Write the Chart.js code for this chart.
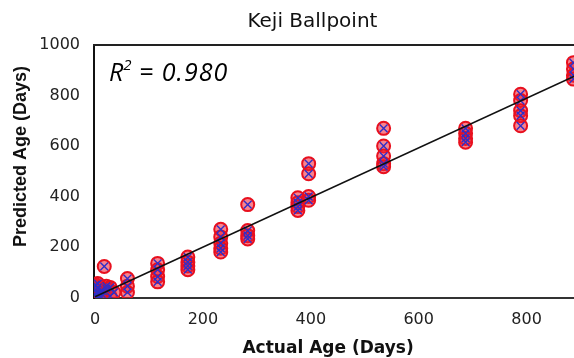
<!DOCTYPE html>
<html>
<head>
<meta charset="utf-8">
<script src="https://cdn.jsdelivr.net/npm/chart.js@4"></script>
<style>
html,body{margin:0;padding:0;background:#fff;overflow:hidden;}
</style>
</head>
<body>
<canvas id="c" width="574" height="358"></canvas>
<script>
// Actual age (days) of each sample and predicted age (days)
const actualAge = [
  0, 1, 2, 3, 5, 7, 10, 14, 21, 28, 1, 3, 14, 21, 0, 7, 10, 28, 35, 5,
  17,
  60, 60, 60,
  116, 116, 116, 116,
  172, 172, 172, 172,
  233, 233, 233, 233, 233,
  283, 283, 283, 283,
  376, 376, 376, 376,
  396, 396, 396, 396,
  535, 535, 535, 535, 535,
  687, 687, 687, 687,
  789, 789, 789, 789, 789,
  887, 887, 887, 887
];
const predictedAge = [
  10, 30, 20, 0, 40, 15, 25, 10, 45, 5, 50, 0, 25, 35, 45, 0, 5, 40, 20, 55,
  123,
  75, 45, 20,
  135, 110, 83, 62,
  160, 140, 125, 110,
  270, 240, 215, 195, 180,
  368, 265, 245, 232,
  395, 375, 360, 345,
  530, 490, 400, 385,
  670, 600, 560, 530, 518,
  670, 650, 630, 615,
  805, 780, 740, 720, 680,
  930, 905, 880, 865
];
// Linear fit line endpoints
const fitX = [0, 890];
const fitY = [3, 878];
const xTicks = [0, 200, 400, 600, 800];
const yTicks = [0, 200, 400, 600, 800, 1000];
const titleText = "        Keji Ballpoint";
const xTitle = "Actual Age (Days)  ";
const yTitle = "      Predicted Age (Days)";
const r2Text = "0.980";

const pts = actualAge.map((x, i) => ({x: x, y: predictedAge[i]}));
const fitPts = fitX.map((x, i) => ({x: x, y: fitY[i]}));

const framePlugin = {
  id: 'frame',
  afterDraw(chart) {
    const {ctx, chartArea: a} = chart;
    ctx.save();
    ctx.strokeStyle = '#222';
    ctx.lineWidth = 2;
    ctx.beginPath();
    ctx.moveTo(a.left - 1, a.top);
    ctx.lineTo(a.right + 5, a.top);
    ctx.stroke();
    // R^2 label
    ctx.fillStyle = '#000';
    ctx.textBaseline = 'alphabetic';
    try { ctx.letterSpacing = '1px'; } catch (e) {}
    ctx.font = 'italic 25px "Open Sans"';
    const x0 = a.left + 15, y0 = a.top + 36;
    ctx.fillText('R', x0, y0);
    const wR = ctx.measureText('R').width;
    ctx.font = 'italic 15px "Open Sans"';
    ctx.fillText('2', x0 + wR - 1, y0 - 11);
    const w2 = ctx.measureText('2').width;
    ctx.font = 'italic 25px "Open Sans"';
    ctx.fillText(' = ' + r2Text, x0 + wR + w2 - 2, y0);
    ctx.restore();
  }
};

new Chart(document.getElementById('c'), {
  type: 'scatter',
  data: {
    datasets: [
      {
        type: 'line',
        data: fitPts,
        borderColor: '#111',
        borderWidth: 1.5,
        pointRadius: 0,
        fill: false,
        order: 0
      },
      {
        data: pts,
        pointStyle: 'crossRot',
        pointRadius: 5.5,
        borderColor: '#2f2fc8',
        borderWidth: 1.4,
        order: 1
      },
      {
        data: pts,
        pointStyle: 'circle',
        pointRadius: 6.5,
        borderColor: '#e8101e',
        backgroundColor: 'rgba(240,30,50,0.55)',
        borderWidth: 2,
        order: 2
      }
    ]
  },
  options: {
    responsive: false,
    devicePixelRatio: 1,
    animation: false,
    layout: {autoPadding: false, padding: {left: 0, right: 0, top: 0, bottom: 0}},
    plugins: {
      legend: {display: false},
      tooltip: {enabled: false},
      title: {
        display: true,
        text: titleText,
        color: '#111',
        font: {family: '"DejaVu Sans"', size: 20, weight: 'normal'},
        padding: {top: 10, bottom: 11}
      }
    },
    scales: {
      x: {
        type: 'linear',
        min: -2,
        max: 888,
        grid: {display: false, drawTicks: false},
        border: {display: true, color: '#333', width: 2},
        afterBuildTicks(scale) { scale.ticks = xTicks.map(v => ({value: v})); },
        ticks: {
          color: '#222',
          font: {family: '"DejaVu Sans"', size: 16},
          padding: 12,
          maxRotation: 0,
          callback: v => String(v)
        },
        title: {
          display: true,
          text: xTitle,
          color: '#111',
          font: {family: '"DejaVu Sans"', size: 17, weight: 'bold', lineHeight: 1.05},
          padding: {top: 0, bottom: 0}
        },
        afterFit(scale) { scale.height = 60; }
      },
      y: {
        type: 'linear',
        min: -2,
        max: 1000,
        grid: {display: false, drawTicks: false},
        border: {display: true, color: '#111', width: 2},
        afterBuildTicks(scale) { scale.ticks = yTicks.map(v => ({value: v})); },
        ticks: {
          color: '#222',
          font: {family: '"DejaVu Sans"', size: 16},
          padding: 14,
          callback: v => String(v)
        },
        title: {
          display: true,
          text: yTitle,
          color: '#111',
          font: {family: '"Liberation Sans", Arial', size: 18, weight: 'bold'},
          padding: {top: 10, bottom: 0}
        },
        afterFit(scale) { scale.width = 94; }
      }
    }
  },
  plugins: [framePlugin]
});
</script>
</body>
</html>
